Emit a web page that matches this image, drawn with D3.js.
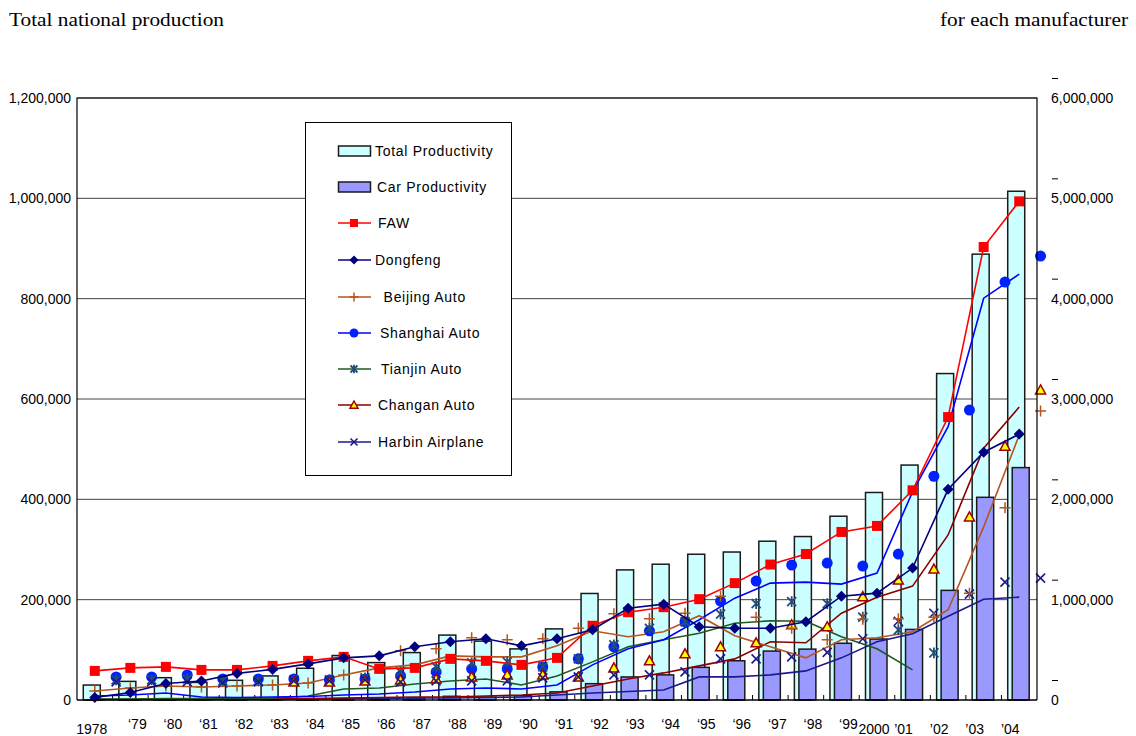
<!DOCTYPE html>
<html>
<head>
<meta charset="utf-8">
<script src="https://cdn.jsdelivr.net/npm/d3@7.9.0/dist/d3.min.js"></script>
<style>
  body { margin: 0; background: #fff; }
  svg { display: block; }
  .tick-label { font-family: "Liberation Sans", Arial, sans-serif; font-size: 14px; fill: #000; }
  .legend-label { font-family: "Liberation Sans", Arial, sans-serif; font-size: 14px; letter-spacing: 0.7px; fill: #000; }
  .title { font-family: "Liberation Serif", "Times New Roman", serif; font-size: 19px; fill: #000; }
</style>
</head>
<body>
<svg id="chart" width="1136" height="736"></svg>
<script>
// categories and tick labels
const years = ['1978','1979','1980','1981','1982','1983','1984','1985','1986','1987','1988','1989','1990',
  '1991','1992','1993','1994','1995','1996','1997','1998','1999','2000','2001','2002','2003','2004'];
const yearLabels = ['1978','\u201879','\u201880','\u201881','\u201882','\u201883','\u201884','\u201885','\u201886',
  '\u201887','\u201888','\u201889','\u201890','\u201891','\u201892','\u201893','\u201894','\u201895','\u201896',
  '\u201897','\u201898','\u201899','2000','\u201901','\u201902','\u201903','\u201904'];
const leftTicks = [0, 200000, 400000, 600000, 800000, 1000000, 1200000];
const rightTicks = [0, 1000000, 2000000, 3000000, 4000000, 5000000, 6000000];

// bars (right axis)
const totalProduction = [149062,185700,222288,175645,196304,239886,316367,443377,372753,472538,646951,586936,509242,
  708820,1061721,1296778,1353368,1452697,1474905,1582628,1629182,1831596,2068186,2341528,3253655,4443686,5070452];
const carProduction = [2640,4152,5418,3428,4030,6046,6010,5207,12297,20865,36798,28820,42409,
  81055,162725,229697,250333,325461,391099,487695,507103,565366,607455,703525,1092762,2020197,2316262];

// manufacturers (left axis) - lines
const faw = [58000,64000,66000,60000,60000,68000,78000,86000,62000,64000,82000,78000,70000,
  84000,148000,175000,185000,201000,233000,270000,291000,335000,347000,418000,564000,903000,994000];
const dongfeng = [5000,15000,33000,38000,53000,61000,72000,84000,88000,106000,116000,122000,108000,
  122000,140000,183000,191000,146000,143000,143000,156000,207000,213000,263000,420000,494000,530000];
const beijingLine = [18000,24000,28000,26000,28000,30000,34000,50000,64000,70000,88000,86000,86000,
  108000,138000,126000,136000,168000,128000,106000,84000,120000,124000,136000,180000,345000,528000];
const shanghaiLine = [8000,10000,14000,6000,5000,6000,7000,10000,12000,16000,22000,24000,22000,
  30000,70000,102000,120000,160000,203000,233000,235000,231000,253000,415000,545000,801000,849000];
const tianjinLine = [2000,2000,3000,3000,3000,4000,8000,22000,24000,32000,38000,42000,30000,
  48000,76000,106000,120000,133000,153000,158000,157000,126000,102000,60000,null,null,null];
const changanLine = [1000,1000,1000,1000,2000,2000,3000,4000,5000,6000,6000,8000,10000,
  14000,28000,42000,54000,68000,82000,116000,114000,173000,205000,227000,329000,502000,584000];
const harbinLine = [1000,1000,1000,1000,1000,1000,2000,3000,3000,4000,4000,5000,6000,
  10000,14000,17000,20000,46000,46000,50000,58000,84000,116000,132000,167000,201000,205000];

// manufacturers (left axis) - markers drawn off the category centre
const beijingEarlyMarks = [18000,24000,28000,26000,28000,30000,34000,50000];
const beijingMarks = [null,null,null,null,null,null,null,null,98000,102000,124000,120000,122000,
  143000,172000,162000,173000,207000,165000,143000,120000,161000,162000,165000,213000,383000,576000];
const shanghaiMarks = [46000,46000,50000,42000,42000,42000,40000,42000,48000,56000,62000,62000,66000,
  82000,106000,138000,156000,197000,237000,269000,273000,267000,291000,446000,578000,833000,885000];
const tianjinMarks = [40000,40000,42000,38000,38000,40000,40000,44000,56000,66000,74000,76000,66000,
  82000,110000,143000,156000,171000,192000,196000,192000,165000,140000,94000,null,null,null];
const changanMarks = [null,null,null,null,null,36000,36000,38000,40000,42000,46000,50000,50000,
  46000,64000,78000,92000,106000,114000,150000,146000,206000,239000,261000,365000,506000,618000];
const harbinMarks = [36000,36000,36000,34000,36000,38000,38000,40000,36000,38000,38000,38000,44000,
  46000,50000,50000,56000,82000,82000,86000,95000,122000,157000,173000,211000,235000,243000];

const svg = d3.select('#chart');
const plotLeft = 77, plotRight = 1037, plotTop = 98, plotBottom = 700;

const x = d3.scaleBand().domain(years).range([plotLeft, plotRight]).padding(0);
const bw = x.bandwidth();
const cx = (i) => x(years[i]) + bw / 2;
const cxShift = (i) => cx(i) + bw * 0.6;
const yL = d3.scaleLinear().domain([0, 1200000]).range([plotBottom, plotTop]);
const yR = d3.scaleLinear().domain([0, 6000000]).range([plotBottom, plotTop]);

// titles
svg.append('text').attr('class', 'title').attr('x', 9).attr('y', 26)
  .attr('textLength', 215).attr('lengthAdjust', 'spacingAndGlyphs')
  .text('Total national production');
svg.append('text').attr('class', 'title').attr('x', 940).attr('y', 26)
  .attr('textLength', 188).attr('lengthAdjust', 'spacingAndGlyphs')
  .text('for each manufacturer');

// gridlines
svg.append('g').selectAll('line').data(leftTicks.slice(1)).join('line')
  .attr('x1', plotLeft).attr('x2', plotRight)
  .attr('y1', d => yL(d)).attr('y2', d => yL(d))
  .attr('stroke', '#444').attr('stroke-width', 1);

// left labels
svg.append('g').selectAll('text').data(leftTicks).join('text')
  .attr('class', 'tick-label')
  .attr('x', 71).attr('y', d => yL(d) + 5)
  .attr('text-anchor', 'end')
  .text(d => d3.format(',')(d));

// right labels and the small dashes above them
svg.append('g').selectAll('text').data(rightTicks).join('text')
  .attr('class', 'tick-label')
  .attr('x', 1051).attr('y', d => yR(d) + 5)
  .text(d => d3.format(',')(d));
svg.append('g').selectAll('line').data(rightTicks).join('line')
  .attr('x1', 1052).attr('x2', 1058)
  .attr('y1', d => yR(d) - 19.5).attr('y2', d => yR(d) - 19.5)
  .attr('stroke', '#000').attr('stroke-width', 1);

// bars
const barW = 17;
svg.append('g').selectAll('rect').data(totalProduction).join('rect')
  .attr('x', (d, i) => cx(i) - 3 - barW / 2)
  .attr('y', d => yR(d))
  .attr('width', barW)
  .attr('height', d => plotBottom - yR(d))
  .attr('fill', '#ccffff').attr('stroke', '#1a1a1a').attr('stroke-width', 1.5);
svg.append('g').selectAll('rect').data(carProduction).join('rect')
  .attr('x', (d, i) => cx(i) + 1.5 - barW / 2)
  .attr('y', d => yR(d))
  .attr('width', barW)
  .attr('height', d => plotBottom - yR(d))
  .attr('fill', '#9999ff').attr('stroke', '#1a1a1a').attr('stroke-width', 1.5);

// category ticks on the x axis
svg.append('g').selectAll('line').data(d3.range(1, years.length)).join('line')
  .attr('x1', i => plotLeft + i * bw).attr('x2', i => plotLeft + i * bw)
  .attr('y1', plotBottom - 5).attr('y2', plotBottom)
  .attr('stroke', '#000');

// marker shapes
function markerPath(type, s) {
  const h = s / 2;
  if (type === 'square') return `M${-h},${-h}H${h}V${h}H${-h}Z`;
  if (type === 'diamond') return `M0,${-h}L${h},0L0,${h}L${-h},0Z`;
  if (type === 'triangle') return `M0,${-h}L${h},${h * 0.8}L${-h},${h * 0.8}Z`;
  if (type === 'plus') return `M${-h},0H${h}M0,${-h}V${h}`;
  if (type === 'times') return `M${-h},${-h}L${h},${h}M${h},${-h}L${-h},${h}`;
  if (type === 'star') return `M${-h},${-h}L${h},${h}M${h},${-h}L${-h},${h}M0,${-h * 1.2}V${h * 1.2}`;
  return '';
}

function drawLine(values, color, width) {
  const line = d3.line()
    .defined(d => d != null)
    .x((d, i) => cx(i))
    .y(d => yL(d));
  svg.append('path').datum(values)
    .attr('d', line)
    .attr('fill', 'none').attr('stroke', color).attr('stroke-width', width || 1.6);
}

function drawMarks(values, xf, spec) {
  const pts = values.map((v, i) => ({ v, i })).filter(p => p.v != null);
  const g = svg.append('g');
  if (spec.type === 'circle') {
    g.selectAll('circle').data(pts).join('circle')
      .attr('cx', p => xf(p.i)).attr('cy', p => yL(p.v)).attr('r', spec.size / 2)
      .attr('fill', spec.fill);
  } else {
    g.selectAll('path').data(pts).join('path')
      .attr('transform', p => `translate(${xf(p.i)},${yL(p.v)})`)
      .attr('d', markerPath(spec.type, spec.size))
      .attr('fill', spec.fill || 'none')
      .attr('stroke', spec.stroke || 'none')
      .attr('stroke-width', spec.sw || 1.5);
  }
}

const styles = {
  faw: { color: '#ff0000', mark: { type: 'square', size: 10, fill: '#ff0000' } },
  dongfeng: { color: '#000080', mark: { type: 'diamond', size: 11, fill: '#000080' } },
  beijing: { color: '#b4561e', mark: { type: 'plus', size: 11, stroke: '#b4561e', sw: 1.5 } },
  shanghai: { color: '#0000ff', mark: { type: 'circle', size: 11, fill: '#0022ff' } },
  tianjin: { color: '#1e5a1e', mark: { type: 'star', size: 9, stroke: '#1f4e79', sw: 1.8 } },
  changan: { color: '#8b0000', mark: { type: 'triangle', size: 10, fill: '#ffff00', stroke: '#a00000', sw: 1.5 } },
  harbin: { color: '#1a1a8c', mark: { type: 'times', size: 9, stroke: '#1a1a8c', sw: 1.6 } }
};

drawLine(harbinLine, styles.harbin.color);
drawLine(changanLine, styles.changan.color);
drawLine(tianjinLine, styles.tianjin.color);
drawLine(shanghaiLine, styles.shanghai.color);
drawLine(beijingLine, styles.beijing.color);

drawMarks(shanghaiMarks, cxShift, styles.shanghai.mark);
drawMarks(tianjinMarks, cxShift, styles.tianjin.mark);
drawMarks(changanMarks, cxShift, styles.changan.mark);
drawMarks(harbinMarks, cxShift, styles.harbin.mark);
drawMarks(beijingMarks, cxShift, styles.beijing.mark);
drawMarks(beijingEarlyMarks, cx, styles.beijing.mark);

drawLine(faw, styles.faw.color);
drawMarks(faw, cx, styles.faw.mark);
drawLine(dongfeng, styles.dongfeng.color);
drawMarks(dongfeng, cx, styles.dongfeng.mark);

// plot frame: left, top, right, bottom
svg.append('path')
  .attr('d', `M${plotLeft},${plotBottom}V${plotTop}H${plotRight}V${plotBottom}`)
  .attr('fill', 'none').attr('stroke', '#000').attr('stroke-width', 1.2);
svg.append('line')
  .attr('x1', plotLeft).attr('x2', plotRight).attr('y1', plotBottom).attr('y2', plotBottom)
  .attr('stroke', '#000').attr('stroke-width', 1.5);

// x labels
svg.append('g').selectAll('text').data(yearLabels).join('text')
  .attr('class', 'tick-label')
  .attr('x', (d, i) => {
    if (d.startsWith('\u2018')) return cx(i) + 7;
    if (d.startsWith('\u2019')) return cx(i) - 9;
    return cx(i) - 3;
  })
  .attr('y', d => d.startsWith('\u2018') ? 729 : 734)
  .attr('text-anchor', 'middle')
  .text(d => d);

// legend
const legend = svg.append('g');
legend.append('rect')
  .attr('x', 305.5).attr('y', 122.5).attr('width', 206).attr('height', 353)
  .attr('fill', '#fff').attr('stroke', '#000').attr('stroke-width', 1);

const legendItems = [
  { label: 'Total Productivity', kind: 'bar', fill: '#ccffff', y: 151, tx: 375 },
  { label: 'Car Productivity', kind: 'bar', fill: '#9999ff', y: 187, tx: 377 },
  { label: 'FAW', kind: 'line', key: 'faw', y: 223, tx: 378 },
  { label: 'Dongfeng', kind: 'line', key: 'dongfeng', y: 260, tx: 375 },
  { label: ' Beijing Auto', kind: 'line', key: 'beijing', y: 297, tx: 379 },
  { label: 'Shanghai Auto', kind: 'line', key: 'shanghai', y: 333, tx: 380 },
  { label: 'Tianjin Auto', kind: 'line', key: 'tianjin', y: 369, tx: 381 },
  { label: 'Changan Auto', kind: 'line', key: 'changan', y: 405, tx: 378 },
  { label: 'Harbin Airplane', kind: 'line', key: 'harbin', y: 442, tx: 378 }
];

legendItems.forEach(item => {
  if (item.kind === 'bar') {
    legend.append('rect')
      .attr('x', 338.5).attr('y', item.y - 5).attr('width', 32).attr('height', 10)
      .attr('fill', item.fill).attr('stroke', '#1a1a1a').attr('stroke-width', 1.5);
  } else {
    const st = styles[item.key];
    legend.append('line')
      .attr('x1', 338).attr('x2', 371).attr('y1', item.y).attr('y2', item.y)
      .attr('stroke', st.color).attr('stroke-width', 1.6);
    const m = st.mark;
    if (m.type === 'circle') {
      legend.append('circle').attr('cx', 354).attr('cy', item.y).attr('r', m.size / 2 - 1).attr('fill', m.fill);
    } else {
      legend.append('path')
        .attr('transform', `translate(354,${item.y})`)
        .attr('d', markerPath(m.type, m.size - 2))
        .attr('fill', m.fill || 'none')
        .attr('stroke', m.stroke || 'none')
        .attr('stroke-width', m.sw || 1.5);
    }
  }
  legend.append('text')
    .attr('class', 'legend-label')
    .attr('x', item.tx).attr('y', item.y + 5)
    .attr('xml:space', 'preserve')
    .style('white-space', 'pre')
    .text(item.label);
});
</script>
</body>
</html>
